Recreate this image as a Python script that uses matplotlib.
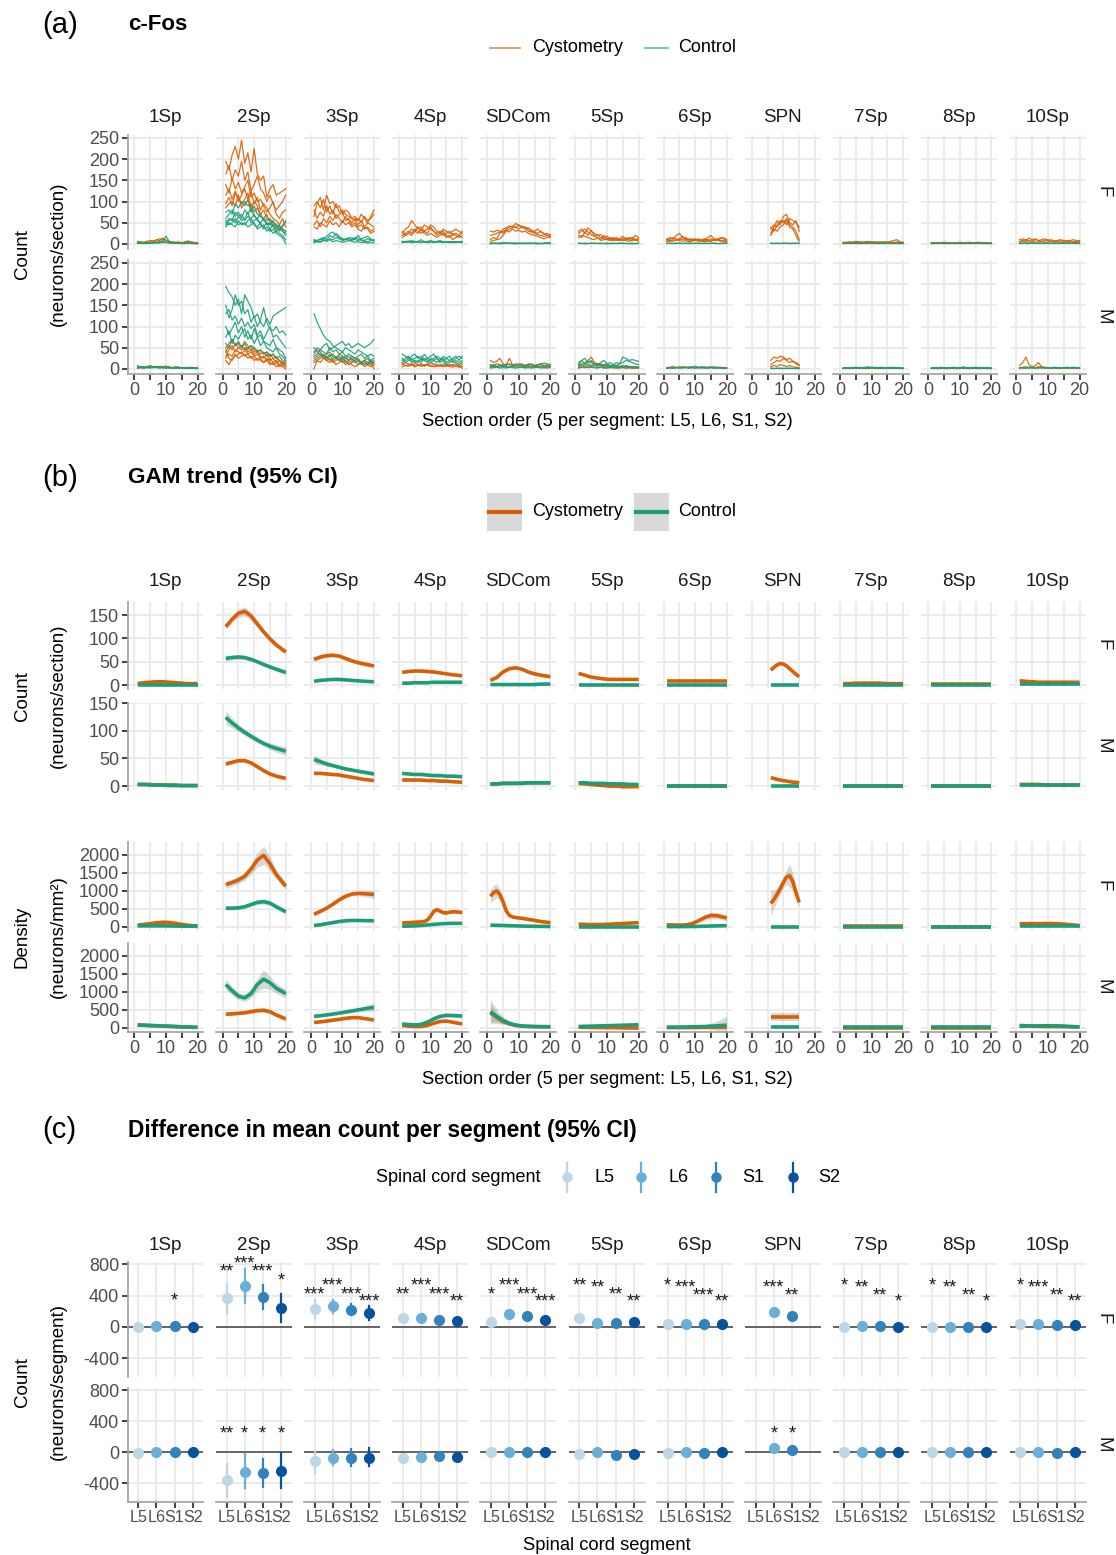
import numpy as np
import matplotlib
matplotlib.use("Agg")
import matplotlib.pyplot as plt

plt.rcParams['font.family'] = ['Liberation Sans', 'DejaVu Sans']
plt.rcParams['axes.unicode_minus'] = False

# ---------------------------------------------------------------- data
regions = ["1Sp", "2Sp", "3Sp", "4Sp", "SDCom", "5Sp", "6Sp", "SPN", "7Sp", "8Sp", "10Sp"]
sexes = ["F", "M"]
segments = ["L5", "L6", "S1", "S2"]
sections = list(range(1, 21))
spn_sections = list(range(6, 16))
gam_x = [1, 3, 5, 7, 9, 11, 13, 15, 17, 20]
gam_x_spn = [6, 7, 8, 9, 10, 11, 12, 13, 14, 15]

# (a) c-Fos counts per section, one list per animal
cfos_F_cys = {
    "1Sp": [[3,5,4,6,8,7,9,12,10,8,6,5,4,5,3,4,6,5,3,2],
            [6,4,3,5,4,6,10,8,14,9,5,4,3,3,2,5,7,4,3,3],
            [2,3,2,4,3,5,4,6,5,4,3,2,3,2,2,3,2,2,1,2]],
    "2Sp": [[195,175,210,230,200,245,190,215,170,225,165,150,160,110,130,140,115,120,125,130],
            [165,185,150,175,160,195,150,170,125,140,160,130,120,100,115,95,80,90,100,115],
            [140,120,155,130,145,120,135,150,110,120,100,105,90,75,85,100,70,60,75,80],
            [115,130,105,125,100,115,130,105,125,95,110,80,95,85,70,60,55,45,60,40],
            [95,110,90,120,110,95,105,120,85,100,90,70,80,60,55,50,45,40,35,30],
            [85,95,100,90,115,85,100,90,95,75,85,65,60,70,50,45,40,30,45,50]],
    "3Sp": [[65,95,110,80,115,95,100,85,90,70,80,75,60,65,55,70,60,50,65,80],
            [90,100,85,105,75,90,70,95,75,80,70,65,60,55,60,50,65,55,60,70],
            [80,60,75,65,90,70,80,60,70,75,55,60,50,60,45,55,40,50,45,40],
            [45,55,40,60,50,65,55,70,60,50,65,55,45,50,40,45,35,40,30,35],
            [40,35,50,45,40,55,45,50,40,55,45,50,40,45,35,30,40,35,25,30]],
    "4Sp": [[25,35,40,55,45,35,40,30,35,45,40,30,25,35,30,25,30,35,30,25],
            [30,20,25,35,30,40,30,45,40,35,30,25,30,20,25,30,20,25,20,30],
            [20,25,30,25,35,30,25,30,25,40,30,20,25,30,20,15,25,20,15,20],
            [15,20,25,20,30,25,35,25,20,25,20,15,20,25,15,20,10,15,20,15]],
    "SDCom": [[30,28,32,30,25,35,40,42,38,45,40,35,38,32,30,35,28,25,20,15],
              [10,15,12,25,35,38,42,40,48,44,38,40,35,30,28,25,30,22,25,20],
              [5,8,10,12,20,30,35,38,40,35,42,38,30,28,25,22,20,18,20,22],
              [20,22,25,28,30,32,28,35,30,32,28,30,25,22,20,18,15,12,15,18]],
    "5Sp": [[30,35,25,38,30,25,20,22,15,18,12,15,10,12,18,10,15,12,20,15],
            [25,30,35,28,22,18,15,10,20,12,15,10,8,10,12,15,10,8,10,12],
            [20,15,28,20,32,18,22,15,12,10,8,12,15,10,8,10,12,15,8,10],
            [15,20,18,15,12,10,15,8,10,12,10,8,12,8,10,8,6,10,12,5]],
    "6Sp": [[10,15,12,20,25,15,10,12,8,10,12,8,10,15,20,12,10,15,12,8],
            [5,10,15,12,10,18,12,8,10,12,8,10,12,8,6,10,8,12,15,10],
            [8,6,10,8,12,10,15,10,12,8,10,6,8,10,12,8,10,6,8,5],
            [12,8,6,10,8,6,8,5,6,10,6,8,5,6,8,10,12,8,6,4]],
    "SPN": [[35,45,40,50,55,45,60,55,50,40],
            [25,40,55,45,65,70,50,45,55,30],
            [40,30,45,55,50,60,45,40,30,10],
            [20,35,30,40,45,55,40,35,20,5]],
    "7Sp": [[3,4,5,4,6,5,4,5,6,4,5,4,3,5,4,6,8,10,5,3],
            [2,3,2,4,3,5,4,3,4,5,3,4,5,4,3,4,3,5,4,2],
            [4,2,3,2,4,3,2,4,3,2,4,3,2,3,4,2,3,2,3,4]],
    "8Sp": [[2,3,2,3,4,3,2,3,2,4,3,2,3,2,3,4,3,2,3,2],
            [1,2,3,2,2,3,2,2,3,2,2,3,4,2,3,2,2,3,2,1],
            [3,2,2,1,2,2,3,1,2,2,1,2,2,3,2,1,2,2,1,2]],
    "10Sp": [[10,12,8,14,10,12,8,10,12,8,10,6,8,10,8,6,8,10,8,6],
             [6,8,10,8,6,10,8,6,8,10,6,8,6,8,6,8,6,5,6,8],
             [4,6,5,8,6,4,5,6,4,5,6,4,5,4,3,4,5,4,3,4]],
}
cfos_F_ctrl = {
    "1Sp": [[2,1,2,3,2,3,4,5,8,18,6,3,2,2,1,2,2,1,1,1],
            [1,2,1,1,2,2,3,2,3,4,3,2,2,1,1,1,1,2,1,1],
            [3,2,2,1,2,3,2,4,6,3,2,3,2,2,1,1,2,1,1,0]],
    "2Sp": [[75,80,70,95,85,100,90,105,75,90,70,65,60,55,60,50,45,40,35,30],
            [60,70,80,65,75,60,80,70,85,65,60,70,55,50,45,55,40,35,30,25],
            [50,60,55,75,65,70,55,65,60,70,55,50,60,45,50,40,35,45,30,20],
            [45,55,60,50,65,55,60,75,50,55,60,45,40,50,35,45,30,25,20,10],
            [55,45,50,60,45,50,45,55,60,45,40,50,35,40,30,35,25,20,15,0],
            [40,50,45,40,55,45,50,40,45,50,35,40,45,30,35,25,30,35,40,55]],
    "3Sp": [[10,8,12,15,10,20,15,25,18,12,10,15,8,12,20,10,8,12,10,6],
            [5,8,10,12,18,25,28,20,15,10,12,8,10,15,12,8,6,5,8,10],
            [8,6,5,10,8,12,10,15,12,8,10,12,15,10,8,12,15,18,12,8],
            [3,5,4,8,6,10,5,8,6,4,5,8,6,4,5,3,4,2,3,2]],
    "4Sp": [[5,6,4,8,5,6,10,5,6,8,5,4,6,5,4,3,5,6,4,5],
            [3,4,5,3,4,5,3,6,4,5,3,6,8,5,4,6,5,3,4,3],
            [6,5,7,5,6,4,5,4,3,4,6,5,4,3,5,4,3,4,5,6]],
    "SDCom": [[2,1,2,1,3,2,1,2,1,2,1,1,2,1,2,1,1,2,3,2],
              [1,2,1,2,1,1,2,1,2,1,2,1,1,2,1,2,1,1,1,1],
              [0,1,1,0,1,2,1,1,0,1,1,2,1,1,1,0,1,1,2,1]],
    "5Sp": [[2,1,2,1,2,1,1,2,1,2,1,2,1,1,2,1,1,2,1,1],
            [1,1,0,1,1,2,1,1,1,0,1,1,1,2,1,1,1,0,1,1]],
    "6Sp": [[1,2,1,1,2,1,1,2,1,1,2,1,1,1,2,1,1,1,2,1],
            [2,1,1,2,1,1,2,1,1,2,1,1,2,1,1,2,1,1,1,2]],
    "SPN": [[1,1,2,1,1,2,1,1,2,1],
            [2,1,1,1,2,1,1,2,1,1]],
    "7Sp": [[1,1,2,1,1,1,2,1,1,1,2,1,1,1,1,2,1,1,1,1],
            [1,2,1,1,2,1,1,1,2,1,1,1,2,1,1,1,1,2,1,1]],
    "8Sp": [[1,1,1,2,1,1,1,1,2,1,1,1,1,2,1,1,1,1,1,1],
            [1,1,2,1,1,1,2,1,1,1,1,2,1,1,1,2,1,1,1,1]],
    "10Sp": [[2,1,2,3,2,1,2,2,1,2,2,1,2,2,1,2,2,1,2,2],
             [1,2,1,1,2,2,1,1,2,1,1,2,1,1,2,1,1,2,1,1]],
}
cfos_M_cys = {
    "1Sp": [[3,5,4,6,8,5,4,6,5,7,4,3,5,4,3,2,3,4,2,3],
            [2,3,2,4,3,5,4,3,5,4,3,2,3,2,3,2,1,2,3,2],
            [5,4,3,5,4,3,6,4,3,2,4,3,2,3,2,3,2,1,2,1]],
    "2Sp": [[50,60,70,55,60,50,65,55,45,50,40,45,35,40,30,35,25,20,15,10],
            [40,55,45,60,50,55,45,50,55,40,45,35,40,30,35,25,30,20,15,5],
            [30,45,55,40,50,45,50,40,45,35,40,30,25,35,20,25,15,20,10,15],
            [25,35,30,45,40,35,45,35,40,30,35,25,30,20,25,15,20,10,15,20],
            [20,10,25,30,35,40,30,35,25,30,20,25,15,20,10,15,5,10,5,0],
            [45,25,20,35,25,30,35,25,30,20,25,20,15,25,15,10,15,5,10,5]],
    "3Sp": [[35,45,40,30,35,40,30,25,35,30,25,20,30,25,20,15,20,15,10,15],
            [25,30,35,25,30,20,25,30,20,25,30,20,15,20,25,15,10,15,20,10],
            [0,20,25,30,20,25,15,20,25,15,20,10,15,20,10,15,20,10,5,10],
            [15,20,15,25,20,15,20,10,15,20,10,15,10,5,10,15,5,10,15,0]],
    "4Sp": [[10,15,12,8,15,10,12,8,10,15,12,10,8,12,10,8,10,12,8,10],
            [5,8,10,12,8,10,6,10,8,6,10,8,6,8,6,10,8,6,4,6],
            [12,8,6,10,5,8,10,6,12,8,5,6,10,5,8,6,4,8,6,2]],
    "SDCom": [[20,15,18,25,12,8,25,10,8,12,10,8,12,10,8,10,12,8,10,8],
              [10,8,12,10,8,12,10,8,12,10,8,6,8,10,6,8,10,6,8,6],
              [5,6,4,8,6,4,5,6,4,5,6,4,5,4,6,4,5,3,4,5]],
    "5Sp": [[10,12,15,20,28,15,12,10,8,10,6,8,5,6,8,5,6,4,5,3],
            [8,10,6,8,6,10,8,12,8,6,5,8,6,4,5,6,4,5,3,4],
            [3,4,5,3,4,5,3,4,2,3,4,2,3,2,3,2,3,2,1,2]],
    "6Sp": [[3,4,6,3,5,4,3,5,4,6,3,4,5,3,4,5,3,4,3,2],
            [2,3,2,3,2,3,4,2,3,2,3,2,3,2,3,2,2,3,2,1]],
    "SPN": [[20,28,25,30,28,22,25,18,15,10],
            [10,15,20,18,25,20,15,18,12,8],
            [5,8,6,10,8,6,8,5,4,3]],
    "7Sp": [[1,2,1,2,1,2,3,2,1,2,1,2,1,2,1,2,1,2,1,1],
            [2,1,2,1,2,1,2,1,2,1,2,1,2,1,2,1,2,1,2,1]],
    "8Sp": [[1,2,1,1,2,1,2,1,1,2,1,2,1,1,2,1,1,2,1,1],
            [2,1,1,2,1,1,1,2,1,1,2,1,1,2,1,1,2,1,1,1]],
    "10Sp": [[8,15,28,10,5,8,15,5,4,3,2,3,2,3,2,2,3,2,3,2],
             [3,4,5,3,4,3,5,4,3,2,3,2,3,2,3,2,2,3,2,2],
             [2,3,2,3,2,3,2,3,2,3,2,3,2,2,3,2,3,2,2,1]],
}
cfos_M_ctrl = {
    "1Sp": [[8,3,5,4,6,3,4,5,3,4,2,3,4,2,3,2,3,2,1,2],
            [3,6,4,3,5,4,6,3,4,3,5,2,3,4,2,3,2,3,2,1],
            [2,3,2,3,2,4,3,2,3,2,3,2,2,3,2,2,1,2,1,1]],
    "2Sp": [[195,180,170,150,165,130,175,160,145,120,130,110,100,120,105,125,130,135,140,145],
            [150,120,140,175,150,160,130,140,110,125,100,115,145,110,95,90,100,85,90,80],
            [130,140,115,125,105,120,100,110,95,105,80,90,70,85,100,75,80,70,60,50],
            [100,80,95,110,85,100,75,90,70,95,75,80,65,60,55,70,50,45,40,25],
            [75,90,60,80,70,85,95,70,80,60,75,55,65,50,45,40,50,35,30,20],
            [60,50,70,55,65,50,60,45,55,50,40,45,35,40,30,35,25,30,20,15]],
    "3Sp": [[130,110,95,80,70,65,55,50,45,40,50,45,40,35,45,40,35,30,35,30],
            [40,50,45,55,60,45,50,55,60,65,55,60,50,55,60,55,50,55,60,70],
            [30,35,45,40,35,50,40,45,35,40,30,35,30,25,30,35,25,30,20,25],
            [20,25,30,35,25,30,35,25,30,20,25,30,20,25,20,15,20,25,15,20],
            [50,40,35,30,25,35,20,25,20,30,15,20,25,15,20,10,15,10,20,15]],
    "4Sp": [[35,30,25,30,35,25,30,20,25,30,35,25,20,30,25,20,25,30,20,30],
            [20,25,30,20,25,30,20,35,25,20,25,30,25,20,25,30,20,25,30,25],
            [15,20,25,15,20,15,25,20,15,25,20,15,20,25,15,20,15,20,15,20],
            [25,15,20,25,15,20,15,25,20,15,20,25,15,20,10,15,20,15,10,15]],
    "SDCom": [[8,10,6,8,10,8,12,10,8,10,12,8,10,12,8,10,12,14,12,10],
              [4,6,5,4,6,5,4,6,8,6,5,4,6,5,4,6,5,8,6,5],
              [2,3,4,2,3,2,4,3,2,3,4,2,3,2,3,4,2,3,2,3]],
    "5Sp": [[10,20,25,15,20,12,10,15,20,12,8,10,15,12,28,25,20,22,20,18],
            [15,20,12,18,15,10,12,8,10,12,15,10,8,12,15,20,18,15,12,10],
            [5,8,10,12,8,10,6,8,5,8,6,5,8,6,5,8,6,5,4,5],
            [2,4,3,5,4,3,2,4,3,2,3,4,2,3,4,2,3,2,3,2]],
    "6Sp": [[2,3,2,4,3,5,4,3,5,6,4,5,3,4,5,3,4,3,2,3],
            [1,2,2,3,2,2,3,2,3,2,3,3,2,2,3,2,2,2,1,2]],
    "SPN": [[1,1,2,1,1,2,1,1,2,1],
            [2,1,1,2,1,1,2,1,1,1]],
    "7Sp": [[2,3,2,3,4,3,2,4,5,3,4,3,4,3,2,4,3,2,3,2],
            [1,2,3,2,3,2,3,2,3,4,3,2,3,2,3,2,3,2,2,1],
            [3,2,2,3,2,3,2,3,2,3,2,3,2,3,2,3,2,3,2,2]],
    "8Sp": [[2,3,2,4,3,2,3,4,3,2,5,3,2,3,4,3,2,3,2,2],
            [3,2,3,2,2,3,2,3,2,3,2,2,3,2,3,2,3,2,3,2],
            [1,2,2,3,2,2,3,2,2,3,2,3,2,2,3,2,2,3,2,1]],
    "10Sp": [[3,2,3,4,3,2,3,4,3,2,3,4,3,2,3,4,3,4,3,3],
             [2,3,2,2,3,2,3,2,3,2,3,2,3,2,3,2,3,2,2,2]],
}

# (b) GAM fits, count per section
count_F_cys = {"1Sp": [3,5,6,7,7,6,5,4,3,3], "2Sp": [125,141,154,158,148,131,114,99,86,71],
               "3Sp": [55,60,63,64,62,57,52,48,45,41], "4Sp": [27,29,30,30,29,28,26,24,22,20],
               "SDCom": [10,16,28,35,37,34,28,24,21,18], "5Sp": [25,21,17,15,13,12,12,12,12,12],
               "6Sp": [8,8,8,8,8,8,8,8,8,8], "SPN": [32,38,43,46,45,41,35,29,23,18],
               "7Sp": [3,3,4,4,4,4,4,3,3,3], "8Sp": [2,2,2,2,2,2,2,2,2,2],
               "10Sp": [9,8,7,6,6,6,6,6,6,6]}
count_F_ctrl = {"1Sp": [1,1,1,1,1,1,1,1,1,1], "2Sp": [57,59,60,59,55,50,44,39,34,27],
                "3Sp": [8,10,11,12,12,11,10,9,8,7], "4Sp": [4,4,5,5,5,6,6,6,6,6],
                "SDCom": [1,1,1,1,1,1,1,1,2,2], "5Sp": [1,1,1,1,1,1,1,1,1,1],
                "6Sp": [1,1,1,1,1,1,1,1,1,1], "SPN": [1,1,1,1,1,1,1,1,1,1],
                "7Sp": [1,1,1,1,1,1,1,1,1,1], "8Sp": [1,1,1,1,1,1,1,1,1,1],
                "10Sp": [2,2,2,2,2,2,2,2,2,2]}
count_M_cys = {"1Sp": [3,3,3,2,2,2,2,1,1,1], "2Sp": [40,43,46,46,42,35,28,22,18,14],
               "3Sp": [23,23,22,21,20,18,16,14,12,10], "4Sp": [11,11,11,11,10,10,9,9,8,7],
               "SDCom": [4,4,5,5,5,5,6,6,6,6], "5Sp": [5,4,3,2,1,0,0,-1,-1,-1],
               "6Sp": [1,1,1,1,1,1,1,1,1,1], "SPN": [15,14,12,11,10,9,8,7,7,6],
               "7Sp": [1,1,1,1,1,1,1,1,1,1], "8Sp": [1,1,1,1,1,1,1,1,1,1],
               "10Sp": [3,3,3,3,2,2,2,2,2,2]}
count_M_ctrl = {"1Sp": [3,3,2,2,2,1,1,1,1,1], "2Sp": [124,114,105,97,90,83,77,72,68,63],
                "3Sp": [48,44,40,37,34,31,29,27,25,22], "4Sp": [23,22,21,21,20,19,19,18,18,17],
                "SDCom": [4,4,5,5,5,5,6,6,6,6], "5Sp": [6,6,5,5,5,4,4,4,3,3],
                "6Sp": [1,1,1,1,1,1,1,1,1,1], "SPN": [1,1,1,1,1,1,1,1,1,1],
                "7Sp": [1,1,1,1,1,1,1,1,1,1], "8Sp": [1,1,1,1,1,1,1,1,1,1],
                "10Sp": [2,2,2,2,2,2,2,2,2,2]}
# 95% CI half widths (only where visible)
count_F_cys_ci = {"2Sp": [6,7,9,10,9,7,6,5,5,6], "3Sp": 4, "SDCom": 3, "SPN": 3}
count_F_ctrl_ci = {"2Sp": [6,5,5,5,4,4,4,4,4,5]}
count_M_cys_ci = {"2Sp": 3}
count_M_ctrl_ci = {"2Sp": [12,9,7,6,5,5,5,6,7,8], "3Sp": [8,6,4,3,3,3,3,3,3,4]}

# (b) GAM fits, density (neurons/mm2)
dens_F_cys = {"1Sp": [50,70,90,115,130,125,100,70,45,30],
              "2Sp": [1170,1230,1300,1400,1600,1850,1980,1750,1450,1130],
              "3Sp": [350,430,520,630,750,850,910,930,920,900],
              "4Sp": [110,115,120,125,130,135,140,150,190,300,430,480,440,395,390,405,420,420,410,400],
              "SDCom": [850,950,1000,900,700,450,320,280,260,250,240,225,210,195,180,165,150,140,130,120],
              "5Sp": [80,70,65,65,70,75,85,95,105,120], "6Sp": [60,55,50,55,90,170,260,320,310,250],
              "SPN": [650,760,900,1060,1230,1380,1420,1250,950,680],
              "7Sp": [15,15,15,15,15,15,15,15,15,15], "8Sp": [5,5,5,5,5,5,5,5,5,5],
              "10Sp": [90,90,92,92,95,95,90,80,60,40]}
dens_F_ctrl = {"1Sp": [30,30,30,30,30,28,25,22,20,15],
               "2Sp": [520,520,530,560,620,680,700,660,560,420],
               "3Sp": [40,60,90,120,150,170,180,180,175,170],
               "4Sp": [20,25,30,40,55,70,85,95,100,100],
               "SDCom": [50,45,40,35,30,25,20,18,15,12], "5Sp": [10,10,10,10,10,10,10,10,10,10],
               "6Sp": [10,10,10,10,12,15,20,25,30,35], "SPN": [10,10,10,10,10,10,10,10,10,10],
               "7Sp": [10,10,10,10,10,10,10,10,10,10], "8Sp": [5,5,5,5,5,5,5,5,5,5],
               "10Sp": [15,15,15,15,15,15,15,15,15,15]}
dens_M_cys = {"1Sp": [80,72,65,58,50,44,37,30,24,18],
              "2Sp": [380,390,405,420,450,480,490,450,360,250],
              "3Sp": [150,170,190,215,240,265,285,285,260,220],
              "4Sp": [70,50,40,40,70,130,180,190,160,110],
              "SDCom": [420,290,180,110,70,50,40,35,32,30], "5Sp": [20,18,15,12,10,8,5,3,0,-5],
              "6Sp": [10,10,10,10,12,14,16,18,20,22], "SPN": [290,290,290,290,290,290,290,290,290,290],
              "7Sp": [10,10,10,10,10,10,10,10,10,10], "8Sp": [10,10,10,10,10,10,10,10,10,10],
              "10Sp": [70,60,50,45,40,40,40,38,35,30]}
dens_M_ctrl = {"1Sp": [85,78,70,62,55,48,40,32,25,18],
               "2Sp": [1200,1030,880,830,950,1200,1350,1250,1100,950],
               "3Sp": [320,340,360,385,410,440,470,500,530,570],
               "4Sp": [110,95,85,100,160,250,320,350,345,330],
               "SDCom": [450,320,210,130,80,55,45,40,38,35], "5Sp": [40,45,50,55,60,65,70,75,80,90],
               "6Sp": [20,22,24,27,30,35,40,50,60,80], "SPN": [40,40,40,40,40,40,40,40,40,40],
               "7Sp": [20,20,20,20,20,20,20,20,20,20], "8Sp": [20,20,20,20,20,20,20,20,20,20],
               "10Sp": [50,52,55,57,60,60,58,50,40,30]}
dens_F_cys_ci = {"1Sp": 20, "2Sp": [110,100,100,110,150,200,250,200,130,100],
                 "3Sp": [50,40,40,40,50,50,50,60,80,110], "4Sp": 40,
                 "SDCom": [180,200,190,150,100,60,40,35,30,30,30,30,30,30,30,30,30,30,35,40],
                 "6Sp": [20,20,20,20,30,50,80,90,90,80], "SPN": [350,250,180,150,150,200,320,250,150,120],
                 "5Sp": 25, "10Sp": 20}
dens_F_ctrl_ci = {"2Sp": [60,50,50,50,50,60,70,60,60,70], "3Sp": 25, "4Sp": 15}
dens_M_cys_ci = {"2Sp": [50,40,40,40,40,50,60,50,50,60], "3Sp": 30, "SPN": 110,
                 "SDCom": [250,120,60,30,20,20,20,20,20,20], "4Sp": 30}
dens_M_ctrl_ci = {"2Sp": [150,120,100,100,120,180,250,180,140,120],
                  "3Sp": [40,35,30,30,30,35,40,50,70,110], "4Sp": [30,25,25,25,30,40,50,50,50,60],
                  "SDCom": [330,200,100,50,30,20,20,20,20,20], "6Sp": [20,20,20,20,25,35,50,80,130,250],
                  "SPN": 30, "5Sp": 25}

# (c) difference in mean count per segment (estimate, 95% CI), stars
nan = np.nan
diff_F_est = {"1Sp": [0,17,8,-3], "2Sp": [365,520,380,240], "3Sp": [235,265,222,172],
              "4Sp": [115,120,95,77], "SDCom": [64,171,137,86], "5Sp": [115,55,55,60],
              "6Sp": [43,43,34,38], "SPN": [nan,197,137,nan], "7Sp": [0,8,8,4],
              "8Sp": [0,0,0,-5], "10Sp": [38,34,21,26]}
diff_F_lo = {"1Sp": [-15,0,-8,-18], "2Sp": [175,310,225,60], "3Sp": [120,180,150,85],
             "4Sp": [90,95,75,55], "SDCom": [40,140,110,65], "5Sp": [92,40,40,42],
             "6Sp": [30,30,22,25], "SPN": [nan,170,115,nan], "7Sp": [-5,2,2,-2],
             "8Sp": [-4,-4,-4,-10], "10Sp": [25,22,10,14]}
diff_F_hi = {"1Sp": [15,34,24,12], "2Sp": [550,740,535,420], "3Sp": [345,350,290,265],
             "4Sp": [140,145,115,100], "SDCom": [90,200,165,110], "5Sp": [138,70,70,78],
             "6Sp": [56,56,46,51], "SPN": [nan,225,160,nan], "7Sp": [5,14,14,10],
             "8Sp": [4,4,4,0], "10Sp": [51,46,32,38]}
diff_F_star = {"1Sp": ["","","*",""], "2Sp": ["**","***","***","*"], "3Sp": ["***","***","***","***"],
               "4Sp": ["**","***","***","**"], "SDCom": ["*","***","***","***"],
               "5Sp": ["**","**","**","**"], "6Sp": ["*","***","***","**"], "SPN": ["","***","**",""],
               "7Sp": ["*","**","**","*"], "8Sp": ["*","**","**","*"], "10Sp": ["*","***","**","**"]}
diff_F_star_y = {"1Sp": [nan,nan,400,nan], "2Sp": [770,877,779,663], "3Sp": [480,600,480,394],
                 "4Sp": [480,600,480,394], "SDCom": [480,600,480,394], "5Sp": [600,570,484,394],
                 "6Sp": [600,570,462,394], "SPN": [nan,570,462,nan], "7Sp": [600,570,462,394],
                 "8Sp": [600,570,462,394], "10Sp": [600,570,462,394]}
diff_M_est = {"1Sp": [-3,3,0,0], "2Sp": [-355,-247,-272,-238], "3Sp": [-115,-72,-72,-72],
              "4Sp": [-68,-60,-47,-55], "SDCom": [0,5,3,3], "5Sp": [-17,0,-30,-17],
              "6Sp": [-3,0,-5,0], "SPN": [nan,55,34,nan], "7Sp": [0,0,0,0],
              "8Sp": [0,0,0,0], "10Sp": [0,0,-3,0]}
diff_M_lo = {"1Sp": [-12,-7,-10,-10], "2Sp": [-570,-465,-450,-455], "3Sp": [-265,-165,-180,-180],
             "4Sp": [-90,-80,-65,-75], "SDCom": [-10,-5,-7,-7], "5Sp": [-30,-12,-45,-30],
             "6Sp": [-12,-9,-14,-9], "SPN": [nan,35,15,nan], "7Sp": [-8,-8,-8,-8],
             "8Sp": [-8,-8,-8,-8], "10Sp": [-8,-8,-11,-8]}
diff_M_hi = {"1Sp": [6,13,10,10], "2Sp": [-145,-20,-85,-5], "3Sp": [20,30,40,50],
             "4Sp": [-45,-40,-30,-35], "SDCom": [10,15,13,13], "5Sp": [-4,12,-15,-4],
             "6Sp": [6,9,4,9], "SPN": [nan,75,53,nan], "7Sp": [8,8,8,8],
             "8Sp": [8,8,8,8], "10Sp": [8,8,5,8]}
diff_M_star = {"2Sp": ["**","*","*","*"], "SPN": ["","*","*",""]}
diff_M_star_y = {"2Sp": [315,315,315,315], "SPN": [nan,315,315,nan]}

# ---------------------------------------------------------------- drawing
ORANGE = "#D95F02"
TEAL = "#1B9E77"
BLUES = ["#BDD7E7", "#6BAED6", "#3182BD", "#08519C"]

W, H = 1116, 1555
fig = plt.figure(figsize=(W / 100, H / 100), dpi=100)


def px_axes(left, top, width, height):
    return fig.add_axes([left / W, 1 - (top + height) / H, width / W, height / H])


col_left = [127.5 + 88.2 * i for i in range(len(regions))]
col_w = 76


def style(ax, first_col, bottom_axis):
    for s in ax.spines.values():
        s.set_visible(False)
    ax.grid(True, color="#EBEBEB", lw=1.4)
    ax.set_axisbelow(True)
    ax.tick_params(length=4, width=1.3, color="#333333", labelcolor="#4D4D4D",
                   labelsize=13, pad=2)
    if first_col:
        ax.spines["left"].set_visible(True)
        ax.spines["left"].set_color("#A6A6A6")
        ax.spines["left"].set_linewidth(1.3)
    else:
        ax.tick_params(left=False, labelleft=False)
    if bottom_axis:
        ax.spines["bottom"].set_visible(True)
        ax.spines["bottom"].set_color("#A6A6A6")
        ax.spines["bottom"].set_linewidth(1.3)
    else:
        ax.tick_params(bottom=False, labelbottom=False)


def section_axis(ax):
    ax.set_xlim(-2.2, 21.9)
    ax.set_xticks([0, 5, 10, 15, 20])
    ax.set_xticklabels(["0", "", "10", "", "20"])


ov = fig.add_axes([0, 0, 1, 1])
ov.set_xlim(0, W)
ov.set_ylim(H, 0)
ov.axis("off")
ov.set_zorder(5)


def strip_tops(y):
    for ci, reg in enumerate(regions):
        ov.text(col_left[ci] + col_w / 2, y, reg, ha="center", va="center", fontsize=13.5, color="#1A1A1A")


def strip_side(y, lab):
    ov.text(1103, y, lab, ha="center", va="center", rotation=-90, fontsize=13.5, color="#1A1A1A")


def ytitle(yc, l1, l2):
    ov.text(22, yc, l1, ha="center", va="center", rotation=90, fontsize=13.5)
    ov.text(58, yc, l2, ha="center", va="center", rotation=90, fontsize=13.5)


# ---- (a)
ov.text(42, 25, "(a)", fontsize=21, va="center")
ov.text(128, 25, "c-Fos", fontsize=16, fontweight="bold", va="center")
ov.plot([490, 520], [48, 48], color=ORANGE, lw=1.2, alpha=0.7)
ov.text(532, 48, "Cystometry", fontsize=13, va="center")
ov.plot([645, 668], [48, 48], color=TEAL, lw=1.2, alpha=0.7)
ov.text(678, 48, "Control", fontsize=13, va="center")
strip_tops(118)

cfos = {"F": (cfos_F_cys, cfos_F_ctrl), "M": (cfos_M_cys, cfos_M_ctrl)}
a_rows = {"F": 135, "M": 260}
for sex in sexes:
    cys, ctrl = cfos[sex]
    for ci, reg in enumerate(regions):
        ax = px_axes(col_left[ci], a_rows[sex], col_w, 114)
        xs = spn_sections if reg == "SPN" else sections
        for line in cys[reg]:
            ax.plot(xs, line, color=ORANGE, lw=0.9, alpha=0.9)
        for line in ctrl[reg]:
            ax.plot(xs, line, color=TEAL, lw=0.9, alpha=0.9)
        section_axis(ax)
        ax.set_ylim(-12, 257)
        ax.set_yticks([0, 50, 100, 150, 200, 250])
        style(ax, ci == 0, sex == "M")
strip_side(192, "F")
strip_side(317, "M")
ytitle(254, "Count", "(neurons/section)")
ov.text(607, 421, "Section order (5 per segment: L5, L6, S1, S2)", ha="center", va="center", fontsize=13.2)

# ---- (b)
ov.text(42, 478, "(b)", fontsize=21, va="center")
ov.text(128, 478, "GAM trend (95% CI)", fontsize=16.2, fontweight="bold", va="center")
for x0, col, lab in [(487, ORANGE, "Cystometry"), (634, TEAL, "Control")]:
    ov.add_patch(plt.Rectangle((x0, 493), 35, 38, color="#D9D9D9", lw=0))
    ov.plot([x0 + 2, x0 + 33], [512, 512], color=col, lw=3.0)
    ov.text(x0 + 45 if lab == "Cystometry" else x0 + 44, 512, lab, fontsize=13, va="center")
strip_tops(582)


def gam_xs(reg, vals):
    if reg == "SPN":
        return gam_x_spn
    if len(vals) == 20:
        return sections
    return gam_x


def draw_gam(ax, reg, vals, ci, color):
    xs = gam_xs(reg, vals)
    y = np.asarray(vals, float)
    hw = np.broadcast_to(np.asarray(ci, float), y.shape)
    ax.fill_between(xs, y - hw, y + hw, color="#808080", alpha=0.3, lw=0)
    ax.plot(xs, y, color=color, lw=2.6, solid_capstyle="butt")


b_blocks = [
    ("count", "F", 602, 87, (-8.5, 178), [0, 50, 100, 150], count_F_cys, count_F_ctrl,
     count_F_cys_ci, count_F_ctrl_ci, 1.0, False),
    ("count", "M", 703, 87, (-7, 150), [0, 50, 100, 150], count_M_cys, count_M_ctrl,
     count_M_cys_ci, count_M_ctrl_ci, 1.0, False),
    ("dens", "F", 842, 89, (-112, 2350), [0, 500, 1000, 1500, 2000], dens_F_cys, dens_F_ctrl,
     dens_F_cys_ci, dens_F_ctrl_ci, 12, False),
    ("dens", "M", 943, 89, (-112, 2350), [0, 500, 1000, 1500, 2000], dens_M_cys, dens_M_ctrl,
     dens_M_cys_ci, dens_M_ctrl_ci, 12, True),
]
for meas, sex, top, h, ylim, yt, cys, ctrl, cys_ci, ctrl_ci, dci, bottom in b_blocks:
    for ci, reg in enumerate(regions):
        ax = px_axes(col_left[ci], top, col_w, h)
        draw_gam(ax, reg, cys[reg], cys_ci.get(reg, dci), ORANGE)
        draw_gam(ax, reg, ctrl[reg], ctrl_ci.get(reg, dci), TEAL)
        section_axis(ax)
        ax.set_ylim(*ylim)
        ax.set_yticks(yt)
        style(ax, ci == 0, bottom)
strip_side(645, "F")
strip_side(746, "M")
strip_side(886, "F")
strip_side(987, "M")
ytitle(696, "Count", "(neurons/section)")
ytitle(937, "Density", "(neurons/mm\u00b2)")
ov.text(607, 1079, "Section order (5 per segment: L5, L6, S1, S2)", ha="center", va="center", fontsize=13.2)

# ---- (c)
ov.text(42, 1130, "(c)", fontsize=21, va="center")
ov.text(128, 1130, "Difference in mean count per segment (95% CI)", fontsize=16.4, fontweight="bold", va="center")
ov.text(540, 1177, "Spinal cord segment", fontsize=13, va="center", ha="right")
for k, (kx, lx) in enumerate(zip([567, 641, 716, 793], [594, 668, 742, 818])):
    ov.plot([kx, kx], [1163, 1192], color=BLUES[k], lw=1.6)
    ov.plot([kx], [1177], "o", ms=6.5, color=BLUES[k])
    ov.text(lx, 1177, segments[k], fontsize=13, va="center")
strip_tops(1246)

c_rows = [("F", 1262, 115, diff_F_est, diff_F_lo, diff_F_hi, diff_F_star, diff_F_star_y),
          ("M", 1388, 114, diff_M_est, diff_M_lo, diff_M_hi, diff_M_star, diff_M_star_y)]
seg_x = [1, 2, 3, 4]
for sex, top, h, est, lo, hi, star, stary in c_rows:
    for ci, reg in enumerate(regions):
        ax = px_axes(col_left[ci], top, col_w, h)
        ax.axhline(0, color="#404040", lw=1.1, zorder=1)
        for k in range(4):
            if np.isnan(est[reg][k]):
                continue
            ax.plot([seg_x[k], seg_x[k]], [lo[reg][k], hi[reg][k]], color=BLUES[k], lw=1.6, zorder=2)
            ax.plot(seg_x[k], est[reg][k], "o", ms=7, color=BLUES[k], zorder=3)
        if reg in star:
            for k in range(4):
                if star[reg][k]:
                    ax.annotate(star[reg][k], (seg_x[k], stary[reg][k]), xytext=(0, -4),
                                textcoords="offset points", ha="center", va="center",
                                fontsize=13, color="#1A1A1A", annotation_clip=False)
        ax.set_xlim(0.4, 4.6)
        ax.set_xticks(seg_x)
        ax.set_xticklabels(segments)
        ax.set_ylim(-640, 830)
        ax.set_yticks([-400, 0, 400, 800])
        style(ax, ci == 0, sex == "M")
        ax.tick_params(axis="x", labelsize=11.6)
strip_side(1319, "F")
strip_side(1445, "M")
ytitle(1382, "Count", "(neurons/segment)")
ov.text(607, 1545, "Spinal cord segment", ha="center", va="center", fontsize=13.2)

fig.savefig("out.png", dpi=100)
